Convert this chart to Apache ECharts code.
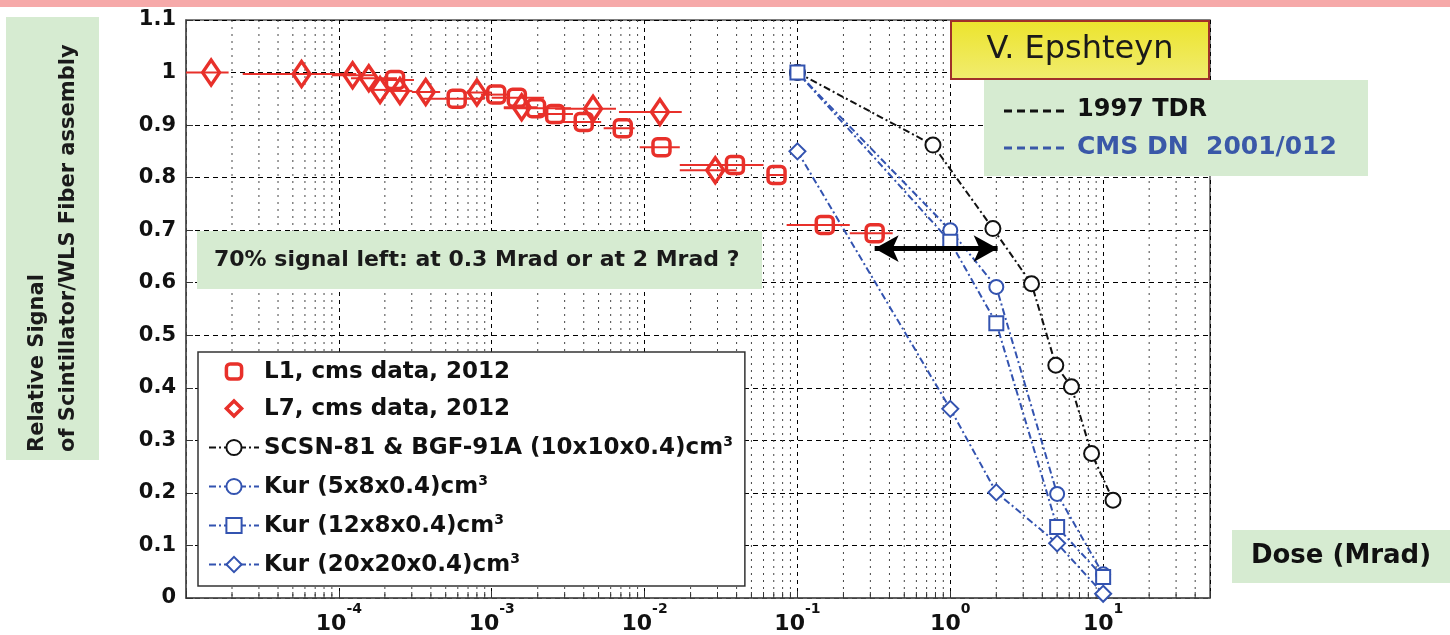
<!DOCTYPE html>
<html>
<head>
<meta charset="utf-8">
<script src="https://cdn.jsdelivr.net/npm/echarts@6/dist/echarts.min.js"></script>
<style>
  html, body { margin: 0; padding: 0; background: #fff; }
  #echarts { width: 1450px; height: 635px; }
</style>
</head>
<body>
<div id="echarts"></div>
<script>
var RED = '#e8302a', BLUE = '#3353b0', BLACK = '#111', GREEN = '#d6ebd1';
var FONT = 'DejaVu Sans';

// L7 (diamonds): dose (Mrad), relative signal, horizontal error bar
var l7Dose   = [1.46e-5, 5.7e-5, 1.23e-4, 1.57e-4, 1.86e-4, 2.51e-4, 3.7e-4, 8.0e-4, 1.57e-3, 4.6e-3, 1.26e-2, 2.9e-2];
var l7Signal = [1.000, 0.997, 0.995, 0.989, 0.967, 0.965, 0.963, 0.962, 0.934, 0.931, 0.925, 0.814];
var l7Lo     = [1.0e-5, 2.35e-5, 9.0e-5, 1.2e-4, 1.6e-4, 2.1e-4, 3.0e-4, 6.5e-4, 1.2e-3, 2.6e-3, 6.8e-3, 1.7e-2];
var l7Hi     = [1.9e-5, 1.3e-4, 1.7e-4, 2.4e-4, 2.2e-4, 3.0e-4, 4.6e-4, 1.0e-3, 2.0e-3, 6.5e-3, 1.75e-2, 4.0e-2];

// L1 (squares)
var l1Dose   = [2.33e-4, 5.9e-4, 1.07e-3, 1.46e-3, 1.95e-3, 2.6e-3, 4.0e-3, 7.2e-3, 1.29e-2, 3.9e-2, 7.3e-2, 0.151, 0.32];
var l1Signal = [0.986, 0.950, 0.958, 0.952, 0.932, 0.921, 0.906, 0.894, 0.858, 0.824, 0.805, 0.710, 0.694];
var l1Lo     = [1.9e-4, 3.5e-4, 8.5e-4, 1.0e-3, 1.2e-3, 2.0e-3, 2.7e-3, 5.4e-3, 9.3e-3, 1.7e-2, 6.3e-2, 8.5e-2, 0.22];
var l1Hi     = [3.1e-4, 9.0e-4, 1.3e-3, 2.2e-3, 3.3e-3, 3.4e-3, 5.2e-3, 8.6e-3, 1.7e-2, 6.0e-2, 8.2e-2, 0.22, 0.42];

// 1997 TDR curve
var scsnDose   = [0.1, 0.77, 1.9, 3.4, 4.9, 6.2, 8.4, 11.6];
var scsnSignal = [1.0, 0.862, 0.703, 0.598, 0.443, 0.402, 0.275, 0.186];

// CMS DN 2001/012 curves
var kurDose     = [0.1, 1, 2, 5, 10];
var kur5x8      = [1.0, 0.700, 0.592, 0.198, 0.045];
var kur12x8     = [1.0, 0.678, 0.523, 0.135, 0.040];
var kur20x20    = [0.85, 0.360, 0.201, 0.104, 0.008];

// double arrow 0.3 .. 2 Mrad
var arrowDose = [0.32, 2.04];
var arrowSignal = 0.665;

// axes
var xMin = 1e-5, xMax = 50;
var xLabelExps = [-4, -3, -2, -1, 0, 1];
var yMin = 0, yMax = 1.1, yStep = 0.1;

var names = ['L1, cms data, 2012', 'L7, cms data, 2012', 'SCSN-81 & BGF-91A (10x10x0.4)cm3',
  'Kur (5x8x0.4)cm3', 'Kur (12x8x0.4)cm3', 'Kur (20x20x0.4)cm3'];

function pairs(xs, ys) {
  var out = [];
  for (var i = 0; i < xs.length; i++) out.push([xs[i], ys[i]]);
  return out;
}
function bars(lo, hi, ys) {
  var out = [];
  for (var i = 0; i < lo.length; i++) out.push([lo[i], hi[i], ys[i]]);
  return out;
}
// minor log grid positions 2..9 x 10^n
var minorTicks = [];
for (var e = -5; e <= 1; e++) {
  for (var k = 2; k <= 9; k++) {
    var v = k * Math.pow(10, e);
    if (v < xMax) minorTicks.push([v, 0]);
  }
}

var myecharts = echarts.init(document.getElementById('echarts'));

var dashDot = [7, 3, 2, 3];

var option = {
  animation: false,
  textStyle: { fontFamily: FONT },
  grid: { left: 186, right: 240, top: 20, bottom: 37, show: true, borderColor: '#555', borderWidth: 1.5 },
  xAxis: {
    type: 'log', logBase: 10, min: xMin, max: xMax,
    axisLine: { lineStyle: { color: '#555', width: 1.5 } },
    axisTick: { inside: true, length: 7, lineStyle: { color: '#333' } },
    splitLine: { show: true, lineStyle: { color: '#000', width: 1, type: [4, 4] } },
    axisLabel: {
      interval: 0, margin: 4, color: BLACK,
      formatter: function (v) {
        var lg = Math.log10(v), ex = Math.round(lg);
        if (Math.abs(lg - ex) > 1e-6 || xLabelExps.indexOf(ex) < 0) return '';
        return '{b|10}{s|' + ex + '}';
      },
      rich: {
        b: { fontFamily: FONT, fontWeight: 'bold', fontSize: 22, lineHeight: 33, verticalAlign: 'bottom', color: BLACK },
        s: { fontFamily: FONT, fontWeight: 'bold', fontSize: 14, lineHeight: 16, verticalAlign: 'top', color: BLACK }
      }
    }
  },
  yAxis: {
    type: 'value', min: yMin, max: yMax, interval: yStep,
    axisLine: { show: true, lineStyle: { color: '#555', width: 1.5 } },
    axisTick: { inside: true, length: 7, lineStyle: { color: '#333' } },
    splitLine: { show: true, lineStyle: { color: '#000', width: 1, type: [5, 4] } },
    axisLabel: { margin: 10, color: BLACK, fontFamily: FONT, fontWeight: 'bold', fontSize: 21 }
  },
  legend: {
    data: [
      { name: names[0], itemStyle: { borderWidth: 3.5 } },
      { name: names[1], itemStyle: { borderWidth: 3.5 } },
      { name: names[2], itemStyle: { borderWidth: 2 } },
      { name: names[3], itemStyle: { borderWidth: 2 } },
      { name: names[4], itemStyle: { borderWidth: 2 } },
      { name: names[5], itemStyle: { borderWidth: 2 } }
    ],
    orient: 'vertical', left: 198, top: 352,
    padding: [9, 12, 9, 10], itemGap: 14, itemWidth: 50, itemHeight: 19,
    backgroundColor: '#fff', borderColor: '#333', borderWidth: 1.5,
    selectedMode: false,
    formatter: function (name) {
      if (name.slice(-3) === 'cm3') return '{t|' + name.slice(0, -1) + '}{s|3}';
      return '{t|' + name + '}';
    },
    textStyle: {
      color: BLACK,
      rich: {
        t: { fontFamily: FONT, fontWeight: 'bold', fontSize: 23, lineHeight: 25, verticalAlign: 'bottom', color: BLACK },
        s: { fontFamily: FONT, fontWeight: 'bold', fontSize: 14, lineHeight: 15, verticalAlign: 'top', color: BLACK }
      }
    }
  },
  series: [
    {
      // minor grid lines and ticks of the log axis
      name: 'minor', type: 'custom', silent: true, z: 1,
      data: minorTicks, encode: { x: 0, y: 1 },
      renderItem: function (params, api) {
        var bot = api.coord([api.value(0), yMin]);
        var top = api.coord([api.value(0), yMax]);
        return { type: 'group', children: [
          { type: 'line', shape: { x1: bot[0], y1: top[1], x2: bot[0], y2: bot[1] },
            style: { stroke: '#444', lineWidth: 1, lineDash: [2, 5] } },
          { type: 'line', shape: { x1: bot[0], y1: bot[1], x2: bot[0], y2: bot[1] - 6 },
            style: { stroke: '#333', lineWidth: 1 } }
        ] };
      }
    },
    {
      name: 'errbars', type: 'custom', silent: true, z: 5,
      data: bars(l1Lo, l1Hi, l1Signal).concat(bars(l7Lo, l7Hi, l7Signal)),
      encode: { x: [0, 1], y: 2 },
      renderItem: function (params, api) {
        var a = api.coord([api.value(0), api.value(2)]);
        var b = api.coord([api.value(1), api.value(2)]);
        return { type: 'line', shape: { x1: a[0], y1: a[1], x2: b[0], y2: b[1] },
          style: { stroke: RED, lineWidth: 2 } };
      }
    },
    {
      name: names[0], type: 'line', silent: true, z: 4,
      data: pairs(l1Dose, l1Signal),
      symbol: 'roundRect', symbolSize: 17,
      lineStyle: { width: 0, opacity: 0 },
      itemStyle: { color: 'rgba(255,255,255,0)', borderColor: RED, borderWidth: 3.5 }
    },
    {
      name: names[1], type: 'line', silent: true, z: 4,
      data: pairs(l7Dose, l7Signal),
      symbol: 'diamond', symbolSize: [17, 25],
      lineStyle: { width: 0, opacity: 0 },
      itemStyle: { color: 'rgba(255,255,255,0)', borderColor: RED, borderWidth: 3.5 }
    },
    {
      name: names[2], type: 'line', silent: true, z: 3,
      data: pairs(scsnDose, scsnSignal),
      symbol: 'emptyCircle', symbolSize: 15,
      lineStyle: { color: BLACK, width: 2, type: dashDot },
      itemStyle: { color: BLACK, borderWidth: 1.8 }
    },
    {
      name: names[3], type: 'line', silent: true, z: 3,
      data: pairs(kurDose, kur5x8),
      symbol: 'emptyCircle', symbolSize: 14,
      lineStyle: { color: BLUE, width: 2, type: dashDot },
      itemStyle: { color: BLUE, borderWidth: 2 }
    },
    {
      name: names[4], type: 'line', silent: true, z: 3,
      data: pairs(kurDose, kur12x8),
      symbol: 'emptyRect', symbolSize: 14,
      lineStyle: { color: BLUE, width: 2, type: dashDot },
      itemStyle: { color: BLUE, borderWidth: 2 }
    },
    {
      name: names[5], type: 'line', silent: true, z: 3,
      data: pairs(kurDose, kur20x20),
      symbol: 'emptyDiamond', symbolSize: 16,
      lineStyle: { color: BLUE, width: 2, type: dashDot },
      itemStyle: { color: BLUE, borderWidth: 2 }
    },
    {
      name: 'arrow', type: 'line', silent: true, data: [], z: 6,
      markLine: {
        silent: true, symbol: ['arrow', 'arrow'], symbolSize: [20, 24],
        label: { show: false },
        lineStyle: { color: '#000', width: 5, type: 'solid' },
        data: [[{ coord: [arrowDose[0], arrowSignal] }, { coord: [arrowDose[1], arrowSignal] }]]
      }
    }
  ],
  graphic: { elements: [
    { type: 'rect', z: 100, shape: { x: 0, y: 0, width: 1450, height: 7 }, style: { fill: '#f6a9a9' } },
    // y axis title
    { type: 'rect', z: 100, shape: { x: 6, y: 17, width: 93, height: 443 }, style: { fill: GREEN } },
    { type: 'text', z: 101, x: 53, y: 452, rotation: Math.PI / 2,
      style: { text: 'Relative Signal\nof Scintillator/WLS Fiber assembly', fill: '#1a1a1a',
        font: 'bold 21px "DejaVu Sans"', textAlign: 'left', textVerticalAlign: 'middle', lineHeight: 31 } },
    // question box
    { type: 'rect', z: 100, shape: { x: 197, y: 231, width: 565, height: 58 }, style: { fill: GREEN } },
    { type: 'text', z: 101, x: 214, y: 260,
      style: { text: '70% signal left: at 0.3 Mrad or at 2 Mrad ?', fill: '#1a1a1a',
        font: 'bold 22px "DejaVu Sans"', textAlign: 'left', textVerticalAlign: 'middle' } },
    // author box
    { type: 'rect', z: 100, shape: { x: 951, y: 21, width: 258, height: 58 },
      style: { fill: new echarts.graphic.LinearGradient(0, 0, 0, 1, [
        { offset: 0, color: '#ece42c' }, { offset: 1, color: '#f1ec70' }]),
        stroke: '#a0302a', lineWidth: 2 } },
    { type: 'text', z: 101, x: 1080, y: 50,
      style: { text: 'V. Epshteyn', fill: '#1a1a1a', font: '32px "DejaVu Sans"',
        textAlign: 'center', textVerticalAlign: 'middle' } },
    // reference box
    { type: 'rect', z: 100, shape: { x: 984, y: 80, width: 384, height: 96 }, style: { fill: GREEN } },
    { type: 'line', z: 101, shape: { x1: 1004, y1: 111, x2: 1064, y2: 111 },
      style: { stroke: '#111', lineWidth: 3, lineDash: [8, 5] } },
    { type: 'text', z: 101, x: 1077, y: 110,
      style: { text: '1997 TDR', fill: '#111', font: 'bold 24px "DejaVu Sans"',
        textAlign: 'left', textVerticalAlign: 'middle' } },
    { type: 'line', z: 101, shape: { x1: 1004, y1: 148, x2: 1064, y2: 148 },
      style: { stroke: '#3a58a8', lineWidth: 3, lineDash: [8, 5] } },
    { type: 'text', z: 101, x: 1077, y: 147,
      style: { text: 'CMS DN  2001/012', fill: '#3a58a8', font: 'bold 25px "DejaVu Sans"',
        textAlign: 'left', textVerticalAlign: 'middle' } },
    // x axis title
    { type: 'rect', z: 100, shape: { x: 1232, y: 530, width: 218, height: 53 }, style: { fill: GREEN } },
    { type: 'text', z: 101, x: 1341, y: 556,
      style: { text: 'Dose (Mrad)', fill: '#111', font: 'bold 26px "DejaVu Sans"',
        textAlign: 'center', textVerticalAlign: 'middle' } }
  ] }
};

myecharts.setOption(option);
</script>
</body>
</html>
